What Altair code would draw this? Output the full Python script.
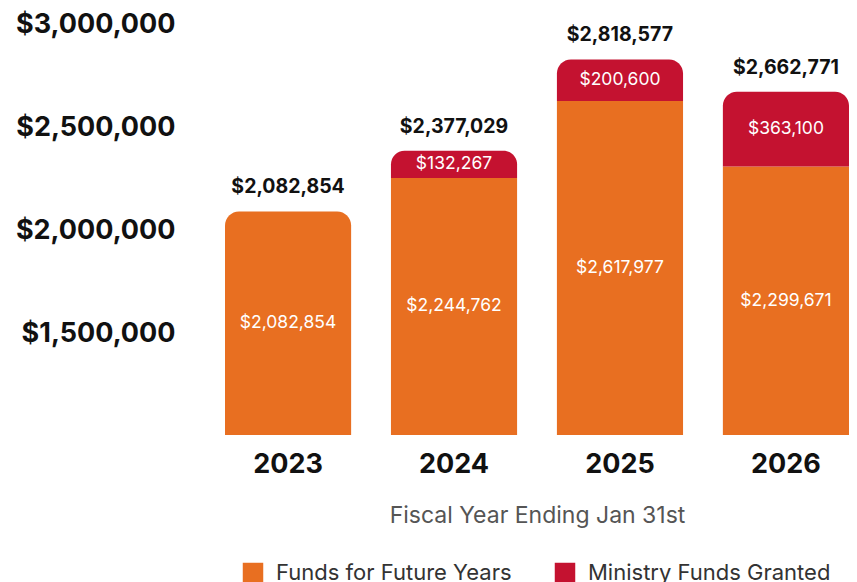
import altair as alt
import pandas as pd

years = ["2023", "2024", "2025", "2026"]
future_funds = [2082854, 2244762, 2617977, 2299671]
ministry_funds = [0, 132267, 200600, 363100]
totals = [2082854, 2377029, 2818577, 2662771]
series_names = ["Funds for Future Years", "Ministry Funds Granted"]
series_colors = ["#E86F21", "#C41230"]
y_ticks = [1500000, 2000000, 2500000, 3000000]
y_min, y_max = 1000000, 3000000

FONT = "Inter"

rows = []
for i, yr in enumerate(years):
    f = future_funds[i]
    m = ministry_funds[i]
    rows.append(dict(year=yr, series=series_names[0], start=0, end=f,
                     top=(m == 0), label=f"${f:,}", mid=(y_min + f) / 2))
    if m > 0:
        rows.append(dict(year=yr, series=series_names[1], start=f, end=f + m,
                         top=True, label=f"${m:,}", mid=f + m / 2))
seg = pd.DataFrame(rows)
tot = pd.DataFrame({"year": years, "total": totals,
                    "label": [f"${t:,}" for t in totals]})

x = alt.X("year:N", sort=years, title="Fiscal Year Ending Jan 31st",
          scale=alt.Scale(paddingInner=0.24, paddingOuter=0),
          axis=alt.Axis(labelAngle=0, labelFont=FONT, labelFontSize=27,
                        labelFontWeight="bold", labelColor="#111",
                        labelPadding=16, ticks=False, domain=False,
                        titleFont=FONT, titleFontSize=23, titleFontWeight="normal",
                        titleColor="#555", titlePadding=27))
y_scale = alt.Scale(domain=[y_min, y_max], nice=False, zero=False)
y = alt.Y("end:Q", scale=y_scale, title=None,
          axis=alt.Axis(values=y_ticks, format="$,.0f", labelFont=FONT,
                        labelFontSize=27, labelFontWeight="bold",
                        labelColor="#111", labelPadding=50, labelOffset=2,
                        ticks=False, domain=False, grid=False))
color = alt.Color("series:N",
                  scale=alt.Scale(domain=series_names, range=series_colors),
                  legend=alt.Legend(title=None, orient="none", legendX=17,
                                    legendY=540, direction="horizontal",
                                    symbolType="square", symbolSize=420,
                                    symbolStrokeWidth=0, labelFont=FONT,
                                    labelFontSize=22, labelColor="#333",
                                    labelOffset=12, columnPadding=42,
                                    labelLimit=400))

base = alt.Chart(seg)
bars_top = base.transform_filter("datum.top").mark_bar(
    clip=True, cornerRadiusTopLeft=14, cornerRadiusTopRight=14
).encode(x=x, y=y, y2="start:Q", color=color)
bars_low = base.transform_filter("!datum.top").mark_bar(clip=True).encode(
    x=x, y=y, y2="start:Q", color=color)
inner = base.mark_text(font=FONT, fontSize=17.5, color="white").encode(
    x=x, y=alt.Y("mid:Q", scale=y_scale), text="label:N")
tops = alt.Chart(tot).mark_text(font=FONT, fontSize=19.5, fontWeight="bold",
                                color="#111", dy=-24).encode(
    x=x, y=alt.Y("total:Q", scale=y_scale), text="label:N")

chart = alt.layer(bars_low, bars_top, inner, tops).properties(
    width=624, height=413,
    background="white",
    autosize=alt.AutoSizeParams(type="none"),
    padding={"left": 217, "top": 14, "right": 0, "bottom": 160},
).configure_view(strokeWidth=0, stroke="transparent")

chart.save("out.html", embed_options={"renderer": "svg", "actions": False})
